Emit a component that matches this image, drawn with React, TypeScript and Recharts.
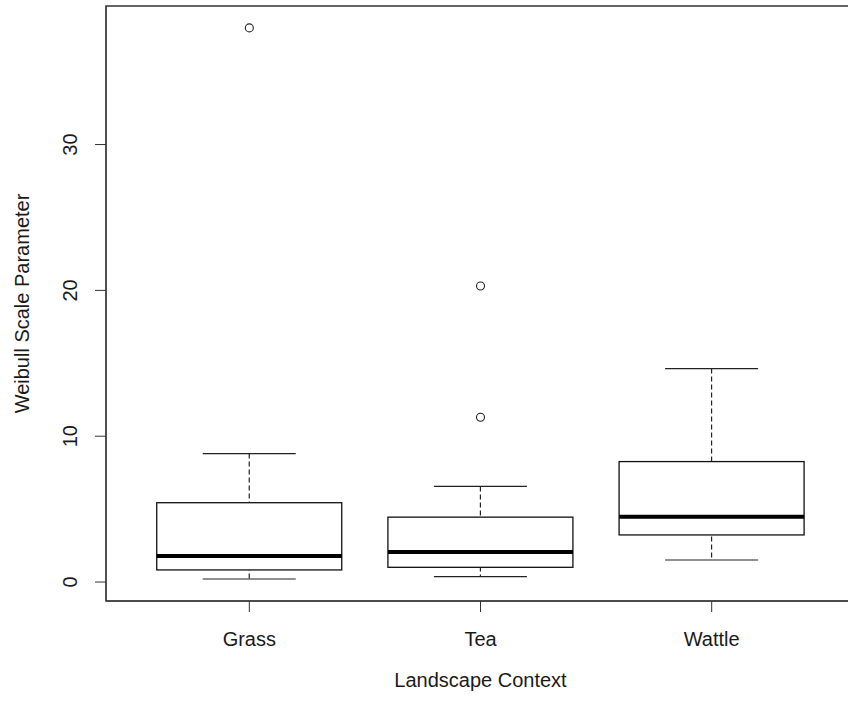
import { ComposedChart, Bar, Scatter, XAxis, YAxis, ReferenceArea } from "recharts";

const categories = ["Grass", "Tea", "Wattle"];
const positions = [1, 2, 3];
const lowerWhisker = [0.21, 0.37, 1.51];
const q1 = [0.83, 1.01, 3.23];
const medians = [1.79, 2.06, 4.47];
const q3 = [5.44, 4.45, 8.26];
const upperWhisker = [8.81, 6.56, 14.64];

const outlierPos = [1, 2, 2];
const outlierValues = [38.0, 20.3, 11.3];

const yTicks = [0, 10, 20, 30];
const xDomain = [0.38, 3.62];
const yDomain = [-1.3, 39.5];

const rows = categories.map((name, i) => ({
  pos: positions[i],
  name,
  whisker: [lowerWhisker[i], upperWhisker[i]],
  box: [q1[i], q3[i]],
  median: medians[i],
}));

const outliers = outlierPos.map((pos, i) => ({ pos, value: outlierValues[i] }));

const FONT = "'Liberation Sans', Arial, sans-serif";
const INK = "#1a1a1a";

const WhiskerShape = (props: any) => {
  const { x, y, width, height } = props;
  const mid = x + width / 2;
  return (
    <g>
      <line x1={mid} x2={mid} y1={y} y2={y + height} stroke="#222" strokeWidth={1.2} strokeDasharray="5,3" />
      <line x1={x} x2={x + width} y1={y} y2={y} stroke="#222" strokeWidth={1.2} />
      <line x1={x} x2={x + width} y1={y + height} y2={y + height} stroke="#222" strokeWidth={1.2} />
    </g>
  );
};

const BoxShape = (props: any) => {
  const { x, y, width, height } = props;
  return <rect x={x} y={y} width={width} height={height} fill="#fff" stroke="#111" strokeWidth={1.3} />;
};

const MedianShape = (props: any) => {
  const { cx, cy } = props;
  return <line x1={cx - 92.5} x2={cx + 92.5} y1={cy} y2={cy} stroke="#000" strokeWidth={4} />;
};

const OutlierShape = (props: any) => {
  const { cx, cy } = props;
  return <circle cx={cx} cy={cy} r={4} fill="none" stroke="#222" strokeWidth={1.1} />;
};

const YTick = ({ x, y, payload }: any) => (
  <text x={x} y={y} transform={`rotate(-90, ${x}, ${y})`} textAnchor="middle" fill={INK} fontSize={20} fontFamily={FONT}>
    {payload.value}
  </text>
);

const YLabel = ({ viewBox }: any) => {
  const cx = viewBox.x + 29;
  const cy = viewBox.y + viewBox.height / 2;
  return (
    <text x={cx} y={cy} transform={`rotate(-90, ${cx}, ${cy})`} textAnchor="middle" fill={INK} fontSize={20} fontFamily={FONT}>
      Weibull Scale Parameter
    </text>
  );
};

const XLabel = ({ viewBox }: any) => (
  <text x={viewBox.x + viewBox.width / 2} y={viewBox.y + 86} textAnchor="middle" fill={INK} fontSize={20} fontFamily={FONT}>
    Landscape Context
  </text>
);

export default function App() {
  return (
    <div style={{ position: "absolute", left: 0, top: 0, width: 848, height: 704, overflow: "hidden", background: "#fff" }}>
      <ComposedChart width={860} height={704} data={rows} margin={{ top: 6, right: 5, bottom: 0, left: 0 }}>
        <XAxis
          xAxisId="main"
          dataKey="pos"
          type="number"
          domain={xDomain}
          ticks={positions}
          allowDataOverflow
          tickFormatter={(v) => categories[v - 1]}
          tickSize={11}
          tickMargin={20}
          height={103}
          stroke="#333"
          tick={{ fill: INK, fontSize: 20, fontFamily: FONT }}
          label={XLabel}
        />
        <XAxis xAxisId="w" dataKey="pos" type="number" domain={xDomain} allowDataOverflow hide />
        <YAxis
          yAxisId={0}
          type="number"
          domain={yDomain}
          ticks={yTicks}
          allowDataOverflow
          width={106}
          tickSize={11}
          tickMargin={18}
          stroke="#333"
          tick={<YTick />}
          label={YLabel}
        />
        <ReferenceArea
          xAxisId="main"
          x1={xDomain[0]}
          x2={xDomain[1]}
          y1={yDomain[0]}
          y2={yDomain[1]}
          fill="none"
          fillOpacity={0}
          stroke="#333"
          strokeWidth={1.4}
          ifOverflow="visible"
        />
        <Bar xAxisId="w" dataKey="whisker" barSize={93} shape={WhiskerShape} isAnimationActive={false} />
        <Bar xAxisId="main" dataKey="box" barSize={185} shape={BoxShape} isAnimationActive={false} />
        <Scatter xAxisId="main" dataKey="median" shape={MedianShape} isAnimationActive={false} />
        <Scatter xAxisId="main" data={outliers} dataKey="value" shape={OutlierShape} isAnimationActive={false} />
      </ComposedChart>
    </div>
  );
}
